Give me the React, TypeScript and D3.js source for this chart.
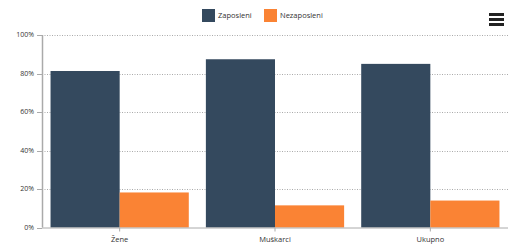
import React from 'react'
import * as d3 from 'd3'

const categories = ['Žene', 'Muškarci', 'Ukupno']
const seriesNames = ['Zaposleni', 'Nezaposleni']
const zaposleni = [81.3, 87.4, 85.0]
const nezaposleni = [18.2, 11.5, 14.0]
const yTicks = [0, 20, 40, 60, 80, 100]
const colors = ['#34495e', '#fa8334']

const W = 512
const H = 248
const margin = { top: 35, right: 4, bottom: 20, left: 42 }

export default function App() {
  const x = d3.scaleBand()
    .domain(categories)
    .range([margin.left, W - margin.right])
    .paddingInner(0.11)
    .paddingOuter(0.055)
  const inner = d3.scaleBand()
    .domain(seriesNames)
    .range([0, x.bandwidth()])
  const y = d3.scaleLinear()
    .domain([0, 100])
    .range([H - margin.bottom - 0.5, margin.top])

  const values = [zaposleni, nezaposleni]
  const font = '"Open Sans", sans-serif'
  const x0 = margin.left
  const x1 = W - margin.right
  const yBottom = y(0)

  return (
    <svg width={W} height={H} style={{ position: 'absolute', left: 0, top: 0, fontFamily: font }}>
      {/* grid */}
      {yTicks.filter(t => t > 0).map(t => (
        <line key={t} x1={x0} x2={x1} y1={Math.round(y(t)) + 0.5} y2={Math.round(y(t)) + 0.5}
          stroke="#aaa" strokeDasharray="1,1.5" strokeWidth={1} />
      ))}
      {/* bars */}
      {categories.map((c, i) => (
        <g key={c}>
          {seriesNames.map((s, j) => (
            <rect key={s}
              x={(x(c) as number) + (inner(s) as number)}
              y={y(values[j][i])}
              width={inner.bandwidth()}
              height={yBottom - y(values[j][i])}
              fill={colors[j]} />
          ))}
        </g>
      ))}
      {/* y axis */}
      <line x1={x0 + 0.5} x2={x0 + 0.5} y1={y(100)} y2={yBottom} stroke="#aaa" strokeWidth={1.5} />
      {yTicks.map(t => (
        <g key={t}>
          <line x1={x0 - 5} x2={x0} y1={Math.round(y(t)) + 0.5} y2={Math.round(y(t)) + 0.5} stroke="#aaa" />
          <text x={x0 - 8} y={y(t)} dy="0.35em" textAnchor="end" fontSize={7} fill="#333">{t}%</text>
        </g>
      ))}
      {/* x axis */}
      <line x1={x0} x2={x1} y1={yBottom + 0.5} y2={yBottom + 0.5} stroke="#aaa" strokeWidth={1} />
      {categories.map(c => {
        const cx = (x(c) as number) + x.bandwidth() / 2
        return (
          <g key={c}>
            <line x1={cx} x2={cx} y1={yBottom} y2={yBottom + 4} stroke="#aaa" />
            <text x={cx} y={yBottom + 14} textAnchor="middle" fontSize={7.5} fill="#333">{c}</text>
          </g>
        )
      })}
      {/* legend */}
      <rect x={202} y={9} width={13} height={13} fill={colors[0]} />
      <text x={218} y={15.5} dy="0.35em" fontSize={7.5} fill="#333">{seriesNames[0]}</text>
      <rect x={264} y={9} width={13} height={13} fill={colors[1]} />
      <text x={280} y={15.5} dy="0.35em" fontSize={7.5} fill="#333">{seriesNames[1]}</text>
      {/* menu icon */}
      {[0, 1, 2].map(k => (
        <rect key={k} x={489} y={13 + k * 5} width={15} height={3} fill="#222" />
      ))}
    </svg>
  )
}
